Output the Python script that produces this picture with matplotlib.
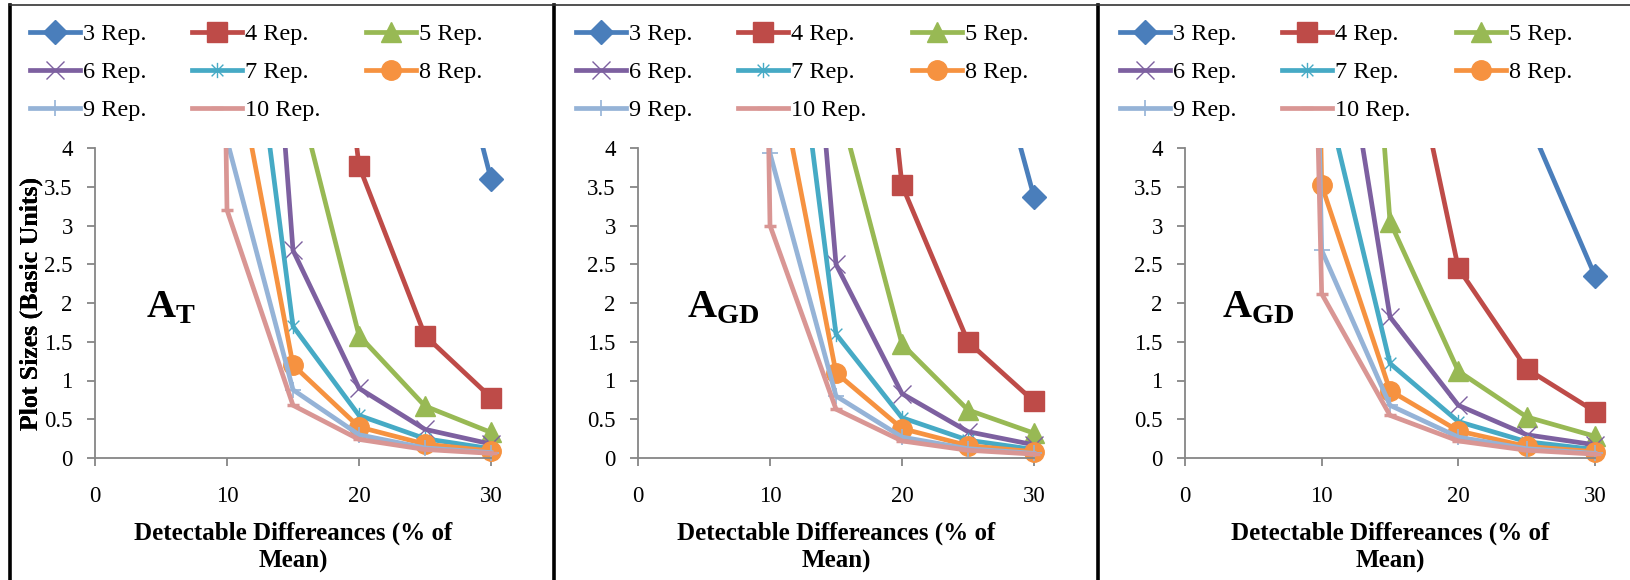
import numpy as np
import matplotlib
matplotlib.use("Agg")
import matplotlib.pyplot as plt
from matplotlib.path import Path
from matplotlib.lines import Line2D
from matplotlib.transforms import Bbox, TransformedBbox
from matplotlib.ticker import FuncFormatter

plt.rcParams["font.family"] = ["Liberation Serif", "DejaVu Serif"]
plt.rcParams["mathtext.fontset"] = "custom"
plt.rcParams["mathtext.rm"] = "Liberation Serif"
plt.rcParams["mathtext.bf"] = "Liberation Serif:bold"

# detectable difference (% of mean)
diff_pct = [5, 10, 15, 20, 25, 30]
series_names = ["3 Rep.", "4 Rep.", "5 Rep.", "6 Rep.", "7 Rep.", "8 Rep.", "9 Rep.", "10 Rep."]

# plot sizes, one row per replicate count (values above 4 run off the top of the axes)
plot_sizes_at = [
    [400, 120, 45, 16, 6.9, 3.6],
    [200, 40, 11, 3.77, 1.58, 0.78],
    [90, 17, 4.95, 1.58, 0.67, 0.33],
    [60, 14, 2.68, 0.9, 0.37, 0.18],
    [35, 8.3, 1.7, 0.55, 0.25, 0.12],
    [25, 5.7, 1.2, 0.4, 0.18, 0.09],
    [60, 4.1, 0.88, 0.3, 0.13, 0.07],
    [60, 3.2, 0.68, 0.24, 0.11, 0.06],
]
plot_sizes_agd_a = [
    [400, 110, 40, 14, 6.5, 3.37],
    [180, 38, 11.5, 3.52, 1.5, 0.73],
    [85, 16, 4.7, 1.47, 0.62, 0.32],
    [55, 12.5, 2.5, 0.83, 0.34, 0.17],
    [35, 8.3, 1.6, 0.52, 0.23, 0.11],
    [25, 5.5, 1.1, 0.38, 0.16, 0.08],
    [60, 3.93, 0.8, 0.27, 0.12, 0.06],
    [55, 3.0, 0.63, 0.22, 0.1, 0.05],
]
plot_sizes_agd_b = [
    [300, 60, 20, 9, 4.4, 2.35],
    [120, 25, 6.6, 2.45, 1.15, 0.6],
    [70, 15, 3.05, 1.12, 0.53, 0.28],
    [40, 7.3, 1.82, 0.68, 0.3, 0.17],
    [30, 4.9, 1.22, 0.47, 0.21, 0.11],
    [50, 3.52, 0.87, 0.35, 0.15, 0.08],
    [45, 2.68, 0.68, 0.27, 0.12, 0.06],
    [40, 2.12, 0.55, 0.22, 0.1, 0.05],
]
panel_labels = [r"$\mathbf{A}_\mathbf{T}$", r"$\mathbf{A}_\mathbf{GD}$", r"$\mathbf{A}_\mathbf{GD}$"]
panel_label_x = [3.9, 3.7, 2.7]

colors = ["#4A7EBB", "#BE4B48", "#98B954", "#7D60A0", "#46AAC5", "#F69240", "#95B3D7", "#D99694"]

star = Path([(-1, -1), (1, 1), (-1, 1), (1, -1), (0, -1.3), (0, 1.3)],
            [Path.MOVETO, Path.LINETO, Path.MOVETO, Path.LINETO, Path.MOVETO, Path.LINETO])
plus = Path([(0, -1), (0, 1), (-1, 0), (1, 0)],
            [Path.MOVETO, Path.LINETO, Path.MOVETO, Path.LINETO])
dash = Path([(-1, 0), (1, 0)], [Path.MOVETO, Path.LINETO])
markers = [
    dict(marker="D", ms=12.5),
    dict(marker="s", ms=14),
    dict(marker="^", ms=15),
    dict(marker="x", ms=13, mew=1.0),
    dict(marker=star, ms=11, mew=1.0, mfc="none"),
    dict(marker="o", ms=14),
    dict(marker=plus, ms=11, mew=1.2, mfc="none"),
    dict(marker=dash, ms=8, mew=2.5, mfc="none"),
]

W, H = 1631, 580
fig = plt.figure(figsize=(W / 100, H / 100), dpi=100)

ax_left = [95, 638, 1185]
ax_width = [396, 396, 410]
legend_x = [30, 576, 1120]
panels = [plot_sizes_at, plot_sizes_agd_a, plot_sizes_agd_b]

for k, vals in enumerate(panels):
    ax = fig.add_axes([ax_left[k] / W, 122 / H, ax_width[k] / W, 310 / H])
    clip = TransformedBbox(Bbox([[-0.1, -0.1], [1.1, 1.0]]), ax.transAxes)
    handles = []
    for i, row in enumerate(vals):
        m = dict(markers[i])
        ln, = ax.plot(diff_pct, row, color=colors[i], lw=3.4, mec=colors[i],
                      solid_joinstyle="miter", label=series_names[i], **m)
        ln.set_clip_box(clip)
        handles.append(ln)
    ax.set_xlim(0, 30)
    ax.set_ylim(0, 4)
    ax.set_xticks([0, 10, 20, 30])
    ax.set_yticks(np.arange(0, 4.01, 0.5))
    ax.yaxis.set_major_formatter(FuncFormatter(lambda v, p: f"{v:g}"))
    for s in ["top", "right"]:
        ax.spines[s].set_visible(False)
    for s in ["left", "bottom"]:
        ax.spines[s].set_color("#868686")
        ax.spines[s].set_linewidth(1.3)
    ax.tick_params(direction="out", length=6, width=1.3, color="#868686",
                   labelsize=16.5)
    ax.tick_params(axis="y", pad=10)
    ax.tick_params(axis="x", pad=14)
    ax.set_ylabel("Plot Sizes (Basic Units)", fontsize=18.5, fontweight="bold")
    ax.yaxis.set_label_coords((43 - ax_left[k]) / ax_width[k], 0.5)
    ax.set_xlabel("Detectable Differeances (% of\nMean)", fontsize=18,
                  fontweight="bold", linespacing=1.25)
    ax.xaxis.set_label_coords(0.5, -0.205)
    ax.text(panel_label_x[k], 1.82, panel_labels[k], fontsize=29, ha="left",
            va="baseline")
    order = [0, 3, 6, 1, 4, 7, 2, 5]
    fig.legend([handles[j] for j in order], [series_names[j] for j in order],
               loc="upper left", bbox_to_anchor=(legend_x[k] / W, 1 - 23 / H),
               ncol=3, frameon=False, fontsize=17.5, borderpad=0, borderaxespad=0,
               handlelength=2.05, handletextpad=0.15, columnspacing=1.85,
               labelspacing=0.66)

# panel frames
for x in [10.3, 554.3, 1098.3]:
    fig.add_artist(Line2D([x / W, x / W], [0, 1 - 5.3 / H], transform=fig.transFigure,
                          color="black", lw=2.6))
fig.add_artist(Line2D([10 / W, 1], [1 - 5.3 / H, 1 - 5.3 / H], transform=fig.transFigure,
                      color="#333333", lw=1.2))

fig.savefig("out.png", dpi=100)
